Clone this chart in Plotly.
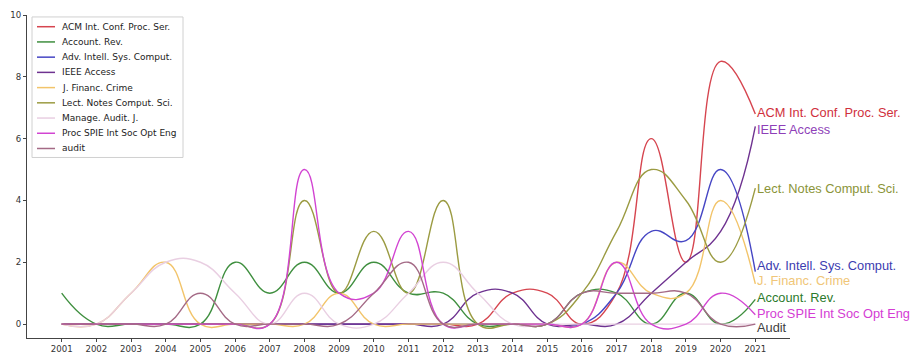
import plotly.graph_objects as go

years = list(range(2001, 2022))

names = ["ACM Int. Conf. Proc. Ser.", "Account. Rev.", "Adv. Intell. Sys. Comput.",
         "IEEE Access", "J. Financ. Crime", "Lect. Notes Comput. Sci.",
         "Manage. Audit. J.", "Proc SPIE Int Soc Opt Eng", "audit"]

acm        = [0, 0, 0, 0, 0, 0, 0, 0, 0, 0, 0, 0, 0, 1, 1, 0, 1, 6, 2, 8.5, 6.8]
account    = [1, 0, 0, 0, 0, 2, 1, 2, 1, 2, 1, 1, 0, 0, 0, 1, 1, 0, 1, 0, 0.8]
adv_intell = [0, 0, 0, 0, 0, 0, 0, 0, 0, 0, 0, 0, 0, 0, 0, 0, 1, 3, 2.7, 5, 1.7]
ieee       = [0, 0, 0, 0, 0, 0, 0, 0, 0, 0, 0, 0, 1, 1, 0, 0, 0, 1, 2, 3, 6.4]
j_financ   = [0, 0, 1, 2, 0, 0, 0, 0, 1, 0, 0, 0, 0, 0, 0, 0, 2, 1, 1, 4, 1.3]
lect_notes = [0, 0, 0, 0, 0, 0, 0, 4, 1, 3, 1, 4, 0, 0, 0, 1, 3, 5, 4, 2, 4.4]
manage     = [0, 0, 1, 2, 2, 1, 0, 1, 0, 0, 1, 2, 1, 0, 0, 0, 0, 0, 0, 0, 0]
proc_spie  = [0, 0, 0, 0, 0, 0, 0, 5, 1, 1, 3, 0, 0, 0, 0, 0, 2, 0, 0, 1, 0.3]
audit      = [0, 0, 0, 0, 1, 0, 0, 0, 0, 1, 2, 0, 0, 0, 0, 1, 1, 1, 1, 0, 0]

series = [acm, account, adv_intell, ieee, j_financ, lect_notes, manage, proc_spie, audit]

line_colors = ["#d6454f", "#3f8f3f", "#4646c4", "#6e3290", "#f2c46a",
               "#9b9b42", "#e9cfe2", "#d244d2", "#a46a86"]

# right-hand end labels (order and text as in the picture)
end_labels = ["ACM Int. Conf. Proc. Ser.", "IEEE Access", "Lect. Notes Comput. Sci.",
              "Adv. Intell. Sys. Comput.", "J. Financ. Crime", "Account. Rev.",
              "Proc SPIE Int Soc Opt Eng", "Audit"]
end_label_y = [6.85, 6.3, 4.4, 1.9, 1.4, 0.85, 0.35, -0.1]
end_label_colors = ["#d0303c", "#8e3fb8", "#8a9438", "#3c3cb0", "#f0c678",
                    "#2c7a2c", "#d43cd4", "#404040"]

fig = go.Figure()
for name, vals, col in zip(names, series, line_colors):
    fig.add_trace(go.Scatter(
        x=years, y=vals, mode="lines", name=name, showlegend=False,
        line=dict(color=col, width=1.4, shape="spline", smoothing=1.3),
        hoverinfo="x+y+name"))

annotations = []
for txt, yv, col in zip(end_labels, end_label_y, end_label_colors):
    annotations.append(dict(x=years[-1], y=yv, xref="x", yref="y", text=txt,
                            showarrow=False, xanchor="left", yanchor="middle", xshift=0,
                            font=dict(family="Liberation Sans, Arial", size=12.8, color=col)))

# manual legend (matplotlib-like compact box)
pw, ph = 921 - 27 - 131, 364 - 10 - 23
def px(x):
    return (x - 27) / pw
def py(y):
    return (341 - y) / ph

shapes = [dict(type="rect", xref="paper", yref="paper", x0=px(32), x1=px(183),
               y0=py(156), y1=py(12), line=dict(color="#d0d0d0", width=1),
               fillcolor="rgba(255,255,255,0.85)", layer="above")]
for i, (name, col) in enumerate(zip(names, line_colors)):
    yy = 22 + 15.6 * i
    shapes.append(dict(type="line", xref="paper", yref="paper", x0=px(37), x1=px(55),
                       y0=py(yy), y1=py(yy), line=dict(color=col, width=1.5), layer="above"))
    annotations.append(dict(x=px(60), y=py(yy), xref="paper", yref="paper", text=name,
                            showarrow=False, xanchor="left", yanchor="middle",
                            font=dict(family="DejaVu Sans", size=9, color="#222")))

fig.update_layout(
    width=921, height=364,
    margin=dict(l=27, r=131, t=10, b=23),
    paper_bgcolor="white", plot_bgcolor="white",
    font=dict(family="DejaVu Sans", size=9, color="#333"),
    xaxis=dict(range=[2000, 2022], tickmode="array", tickvals=years,
               ticktext=[str(y) for y in years], showgrid=False, zeroline=False,
               showline=True, linecolor="#444", linewidth=1, ticks="outside",
               ticklen=3, tickcolor="#444", tickfont=dict(size=8.6, color="#333")),
    yaxis=dict(range=[-0.45, 10], tickvals=[0, 2, 4, 6, 8, 10], showgrid=False,
               zeroline=False, showline=True, linecolor="#444", linewidth=1,
               ticks="outside", ticklen=3, tickcolor="#444",
               tickfont=dict(size=8.6, color="#333")),
    shapes=shapes, annotations=annotations,
)

fig.write_html("out.html", config={"displayModeBar": False},
               post_script="document.body.style.margin='0';")
